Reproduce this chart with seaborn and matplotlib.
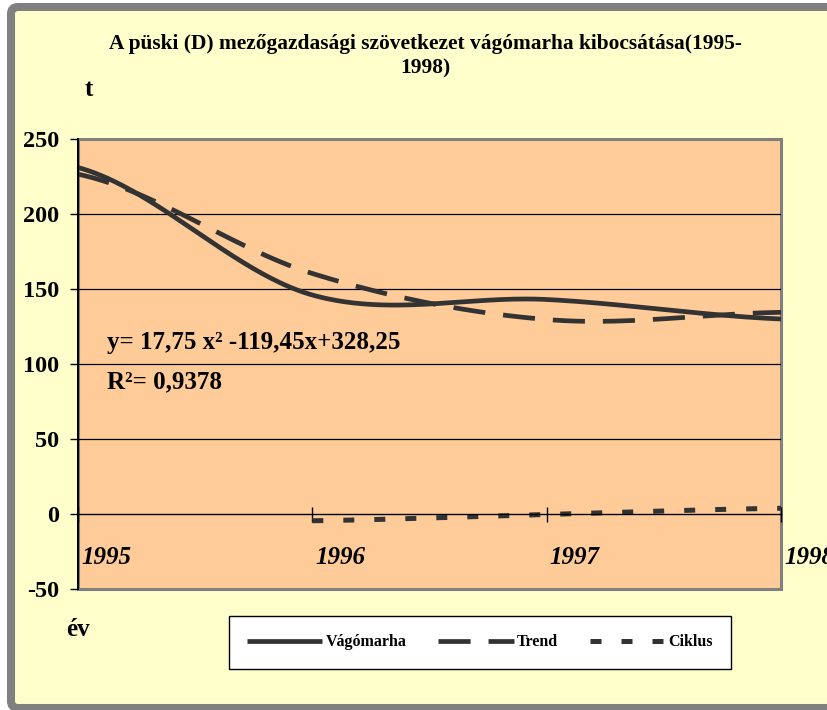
import numpy as np
import matplotlib
matplotlib.use("Agg")
import matplotlib.pyplot as plt
import matplotlib.transforms as mtransforms
from matplotlib.patches import FancyBboxPatch
from matplotlib.lines import Line2D
import seaborn as sns

# --- data -------------------------------------------------------------
years = ["1995", "1996", "1997", "1998"]
vagomarha = [231, 146, 143, 130]            # t
trend = [226.55, 160.35, 129.65, 134.45]    # y = 17,75x^2 - 119,45x + 328,25
ciklus_years = ["1996", "1997", "1998"]
ciklus = [-4.5, -0.3, 3.8]

title = "A püski (D) mezőgazdasági szövetkezet vágómarha kibocsátása(1995-\n1998)"
equation = "y= 17,75 x² -119,45x+328,25"
r_squared = "R²= 0,9378"

# --- style ------------------------------------------------------------
plt.rcParams["font.family"] = ["Liberation Serif", "DejaVu Serif"]
plt.rcParams["font.weight"] = "bold"
plt.rcParams["axes.unicode_minus"] = False

LINE = "#333333"
PLOT_BG = "#FFCC99"
CHART_BG = "#FFFFCC"


def smooth(xpos, values, n=80):
    """Catmull-Rom style smoothing of a series (like a smoothed line chart)."""
    x = np.asarray(xpos, float)
    y = np.asarray(values, float)
    xs, ys = [], []
    k = len(y)
    for i in range(k - 1):
        y0 = y[i - 1] if i > 0 else y[i]
        y3 = y[i + 2] if i + 2 < k else y[i + 1]
        m1 = (y[i + 1] - y0) / 2.0
        m2 = (y3 - y[i]) / 2.0
        t = np.linspace(0, 1, n)
        h00 = 2 * t**3 - 3 * t**2 + 1
        h10 = t**3 - 2 * t**2 + t
        h01 = -2 * t**3 + 3 * t**2
        h11 = t**3 - t**2
        xs.append(x[i] + t * (x[i + 1] - x[i]))
        ys.append(h00 * y[i] + h10 * m1 + h01 * y[i + 1] + h11 * m2)
    return np.concatenate(xs), np.concatenate(ys)


W, H = 828, 710
fig = plt.figure(figsize=(W / 100, H / 100), dpi=100, facecolor="white")

# chart area with its grey rounded frame
frame = FancyBboxPatch((11, 2), 860 - 11, 703 - 2,
                       boxstyle="round,pad=0,rounding_size=7",
                       transform=mtransforms.IdentityTransform(),
                       facecolor=CHART_BG, edgecolor="#808080",
                       linewidth=5.8, zorder=-10)
fig.patches.append(frame)

ax = fig.add_axes([78 / W, 121 / H, 703 / W, 450 / H])
ax.set_facecolor(PLOT_BG)
ax.patch.set_edgecolor("#808080")
ax.patch.set_linewidth(2.2)

pos_all = np.arange(len(years))
pos_cik = np.array([years.index(y) for y in ciklus_years])

solid_style = dict(color=LINE, lw=3.4, solid_capstyle="butt")
trend_style = dict(color=LINE, lw=3.4, ls=(0, (6.8, 3.8)), dash_capstyle="butt")
cik_style = dict(color=LINE, lw=3.6, ls=(0, (2.2, 4.0)), dash_capstyle="butt")

xs, ys = smooth(pos_all, vagomarha)
sns.lineplot(x=xs, y=ys, sort=False, estimator=None, ax=ax, **solid_style)
xs, ys = smooth(pos_all, trend)
sns.lineplot(x=xs, y=ys, sort=False, estimator=None, ax=ax, **trend_style)
xs, ys = smooth(pos_cik, ciklus)
sns.lineplot(x=xs, y=ys, sort=False, estimator=None, ax=ax, **cik_style)

ax.set_xlim(0, 3)
ax.set_ylim(-50, 250)
ax.set_xlabel("")
ax.set_ylabel("")

# axes, ticks and grid
for s in ("top", "right"):
    ax.spines[s].set_visible(False)
ax.spines["left"].set_color("black")
ax.spines["left"].set_linewidth(1.4)
ax.spines["bottom"].set_position(("data", 0))
ax.spines["bottom"].set_color("black")
ax.spines["bottom"].set_linewidth(1.0)

ax.set_xticks(pos_all)
ax.set_xticklabels([])
ax.tick_params(axis="x", direction="inout", length=10.8, width=1, colors="black",
               labelbottom=False)
yt = list(range(-50, 251, 50))
ax.set_yticks(yt)
ax.tick_params(axis="y", direction="out", length=5.8, width=1, pad=7.5,
               labelsize=17.5, colors="black")
ax.set_axisbelow(True)
ax.yaxis.grid(True, color="black", lw=0.9)
ax.xaxis.grid(False)
for gl, v in zip(ax.get_ygridlines(), yt):
    if v in (-50, 0, 250):
        gl.set_visible(False)

# year labels under the zero line
shift = mtransforms.offset_copy(ax.transData, fig=fig, x=3, y=0, units="dots")
for i, yr in enumerate(years):
    ax.text(i, -28.7, yr, transform=shift, ha="left", va="center",
            fontsize=18, fontstyle="italic", clip_on=False)

# regression equation
ax.text(0.124, 114, equation, fontsize=18, ha="left", va="center")
ax.text(0.124, 88, r_squared, fontsize=18, ha="left", va="center")

# titles and axis names
fig.text(425 / W, 1 - 56 / H, title, ha="center", va="center", fontsize=15.4,
         linespacing=1.32, multialignment="center")
fig.text(89 / W, 1 - 90 / H, "t", ha="center", va="center", fontsize=18)
fig.text(78 / W, 1 - 629 / H, "év", ha="center", va="center", fontsize=18)

# legend
handles = [Line2D([], [], **solid_style), Line2D([], [], **trend_style),
           Line2D([], [], **cik_style)]
labels = ["Vágómarha", "Trend", "Ciklus"]
leg = fig.legend(handles, labels, loc="center", ncol=3,
                 bbox_to_anchor=(480 / W, 1 - 642.5 / H),
                 fontsize=11.5, handlelength=4.7, handletextpad=0.2,
                 columnspacing=2.0, borderpad=1.15, frameon=True, fancybox=False,
                 facecolor="white", edgecolor="black", framealpha=1)
leg.get_frame().set_linewidth(1.0)

fig.savefig("out.png", dpi=100, facecolor=fig.get_facecolor())
